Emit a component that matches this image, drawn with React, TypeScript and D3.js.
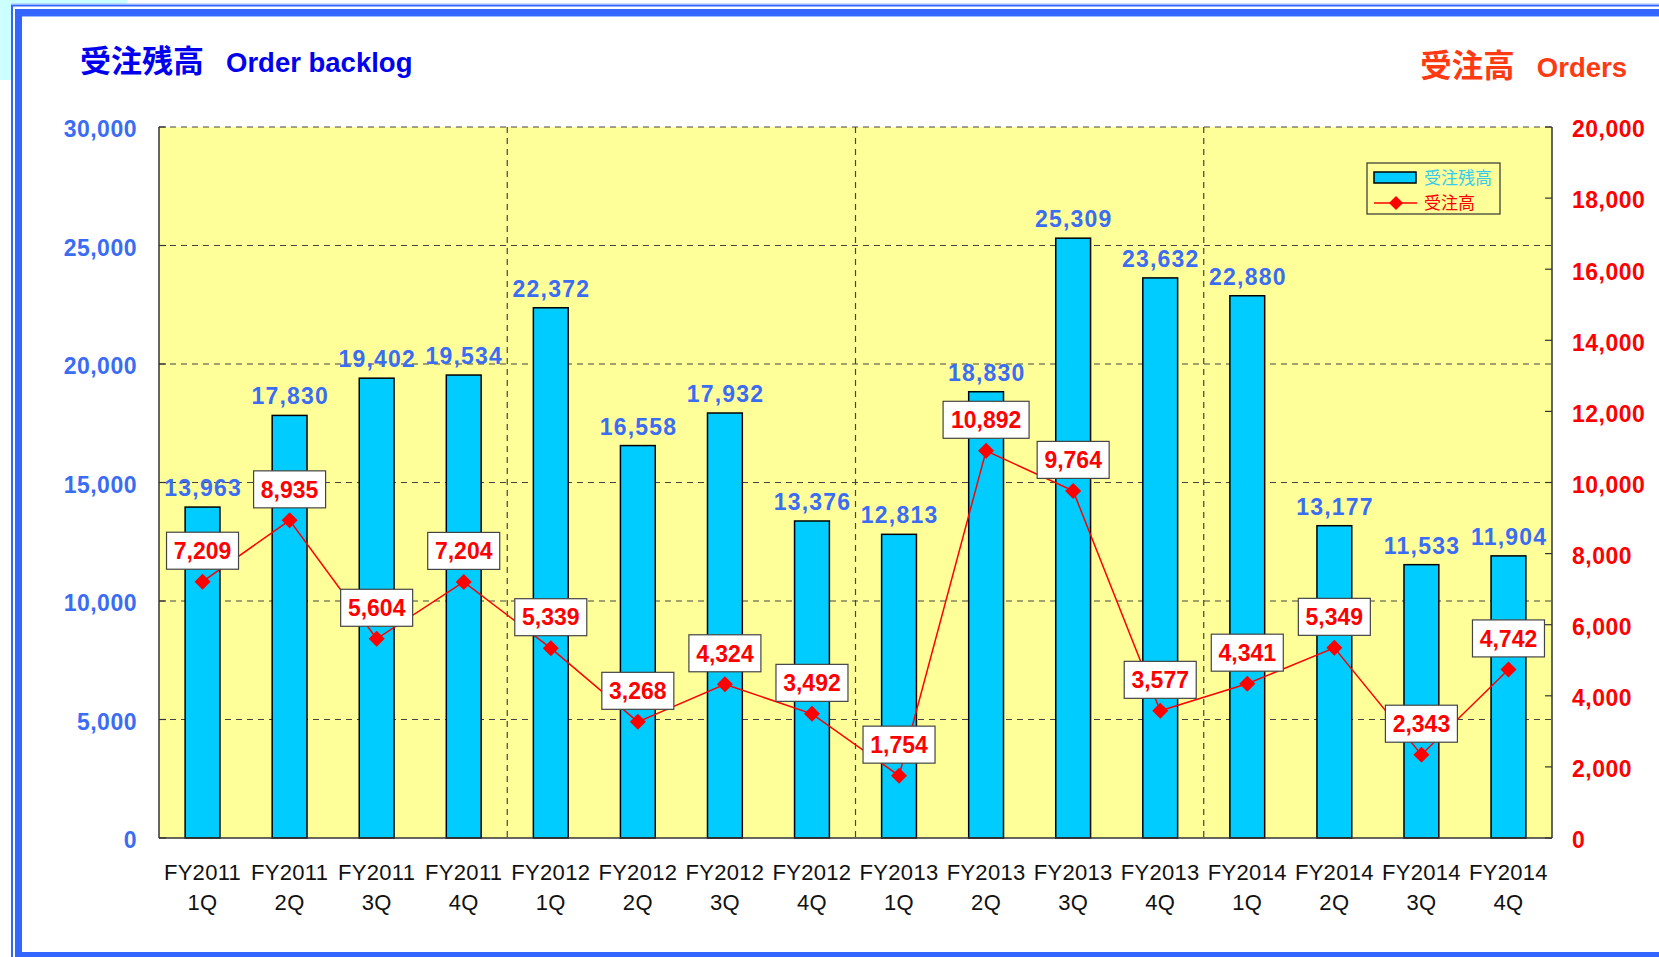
import * as d3 from "d3";
import React from "react";

// categories (two-line labels)
const years = ["FY2011", "FY2011", "FY2011", "FY2011", "FY2012", "FY2012", "FY2012", "FY2012",
  "FY2013", "FY2013", "FY2013", "FY2013", "FY2014", "FY2014", "FY2014", "FY2014"];
const quarters = ["1Q", "2Q", "3Q", "4Q", "1Q", "2Q", "3Q", "4Q", "1Q", "2Q", "3Q", "4Q", "1Q", "2Q", "3Q", "4Q"];

// 受注残高 (order backlog), left axis
const backlog = [13963, 17830, 19402, 19534, 22372, 16558, 17932, 13376,
  12813, 18830, 25309, 23632, 22880, 13177, 11533, 11904];
// 受注高 (orders), right axis
const orders = [7209, 8935, 5604, 7204, 5339, 3268, 4324, 3492,
  1754, 10892, 9764, 3577, 4341, 5349, 2343, 4742];

const leftTicks = [0, 5000, 10000, 15000, 20000, 25000, 30000];
const rightTicks = [0, 2000, 4000, 6000, 8000, 10000, 12000, 14000, 16000, 18000, 20000];

const W = 1659, H = 957;
const plot = { left: 159, right: 1552, top: 127, bottom: 838 };
const fmt = d3.format(",");
const numFont = "'Liberation Sans', Arial, sans-serif";
const jpFont = "'Noto Sans CJK JP', sans-serif";

export default function App() {
  const keys = years.map((_, i) => String(i));
  const x = d3.scaleBand().domain(keys).range([plot.left, plot.right]).paddingInner(0.6).paddingOuter(0.3);
  const step = x.step();
  const cx = (i: number) => (x(String(i)) as number) + x.bandwidth() / 2;
  const yL = d3.scaleLinear().domain([0, 30000]).range([plot.bottom, plot.top]);
  const yR = d3.scaleLinear().domain([0, 20000]).range([plot.bottom, plot.top]);

  const line = d3.line<number>().x((_, i) => cx(i)).y(d => yR(d));
  const diamond = (px: number, py: number, r: number) =>
    `M${px},${py - r}L${px + r},${py}L${px},${py + r}L${px - r},${py}Z`;

  // boundaries between fiscal years
  const yearBreaks = [4, 8, 12].map(k => plot.left + step * k);

  return (
    <svg width={W} height={H} style={{ position: "absolute", left: 0, top: 0, background: "#fff" }}>
      {/* frame */}
      <rect x={0} y={0} width={127} height={80} fill="#ccffff" />
      <rect x={11} y={4} width={W - 11} height={H - 4} fill="#fff" />
      <line x1={11} y1={5.5} x2={W} y2={5.5} stroke="#3366ff" strokeWidth={2} />
      <line x1={11} y1={4} x2={W} y2={4} stroke="#99bbff" strokeWidth={1} />
      <line x1={12} y1={5} x2={12} y2={H} stroke="#3366ff" strokeWidth={2} />
      <rect x={15} y={9} width={W - 15} height={7} fill="#3366ff" />
      <rect x={15} y={9} width={7} height={H - 9} fill="#3366ff" />
      <rect x={15} y={952} width={W - 15} height={5} fill="#3366ff" />
      <line x1={22} y1={16.5} x2={W} y2={16.5} stroke="#99bbff" strokeWidth={1} />

      {/* titles */}
      <text x={80} y={72} fill="#0000ee" fontWeight="bold" fontSize={31} fontFamily={jpFont}>
        受注残高<tspan dx={22} fontFamily={numFont} fontSize={27.5}>Order backlog</tspan>
      </text>
      <text x={1627} y={77} textAnchor="end" fill="#ff3a12" fontWeight="bold" fontSize={31.5} fontFamily={jpFont}>
        受注高<tspan dx={22} fontFamily={numFont} fontSize={27.5}>Orders</tspan>
      </text>

      {/* plot background */}
      <rect x={plot.left} y={plot.top} width={plot.right - plot.left} height={plot.bottom - plot.top} fill="#ffff99" />

      {/* gridlines */}
      {leftTicks.filter(t => t > 0).map(t => (
        <line key={t} x1={plot.left} x2={plot.right} y1={yL(t)} y2={yL(t)} stroke="#444" strokeWidth={1.2} strokeDasharray="6,5" />
      ))}
      {yearBreaks.map((bx, i) => (
        <line key={i} x1={bx} x2={bx} y1={plot.top} y2={plot.bottom} stroke="#444" strokeWidth={1.2} strokeDasharray="6,5" />
      ))}

      {/* bars */}
      {backlog.map((v, i) => (
        <rect key={i} x={x(String(i))} y={yL(v)} width={x.bandwidth()} height={plot.bottom - yL(v)}
          fill="#00ccff" stroke="#000" strokeWidth={1.5} />
      ))}

      {/* axes */}
      <line x1={plot.left} x2={plot.left} y1={plot.top} y2={plot.bottom} stroke="#333" strokeWidth={1.5} />
      <line x1={plot.right} x2={plot.right} y1={plot.top} y2={plot.bottom} stroke="#333" strokeWidth={1.5} />
      <line x1={plot.left} x2={plot.right} y1={plot.bottom} y2={plot.bottom} stroke="#333" strokeWidth={1.5} />
      {leftTicks.map(t => (
        <g key={t}>
          <line x1={plot.left} x2={plot.left + 7} y1={yL(t)} y2={yL(t)} stroke="#333" strokeWidth={1.2} />
          <text x={137} y={yL(t)} dy="0.45em" textAnchor="end" fill="#3b6cf4" fontWeight="bold" fontSize={23} letterSpacing={0.5} fontFamily={numFont}>{fmt(t)}</text>
        </g>
      ))}
      {rightTicks.map(t => (
        <g key={t}>
          <line x1={plot.right - 7} x2={plot.right} y1={yR(t)} y2={yR(t)} stroke="#333" strokeWidth={1.2} />
          <text x={1572} y={yR(t)} dy="0.45em" fill="#ff0000" fontWeight="bold" fontSize={23} letterSpacing={0.5} fontFamily={numFont}>{fmt(t)}</text>
        </g>
      ))}

      {/* category labels */}
      {years.map((yr, i) => (
        <text key={i} x={cx(i)} textAnchor="middle" fill="#111" fontSize={22} letterSpacing={0.3} fontFamily={numFont}>
          <tspan x={cx(i)} y={880}>{yr}</tspan>
          <tspan x={cx(i)} y={910}>{quarters[i]}</tspan>
        </text>
      ))}

      {/* backlog value labels */}
      {backlog.map((v, i) => (
        <text key={i} x={cx(i) + 0.6} y={yL(v) - 11} textAnchor="middle" fill="#3b6cf4" fontWeight="bold" fontSize={23} letterSpacing={1.2} fontFamily={numFont}>{fmt(v)}</text>
      ))}

      {/* orders line */}
      <path d={line(orders) as string} fill="none" stroke="#ff0000" strokeWidth={1.5} />
      {orders.map((v, i) => (
        <path key={i} d={diamond(cx(i), yR(v), 8)} fill="#ff0000" />
      ))}
      {orders.map((v, i) => {
        const s = fmt(v);
        const bw = 14 * s.length + 2;
        const by = yR(v) - 31;
        return (
          <g key={i}>
            <rect x={cx(i) - bw / 2} y={by - 18.5} width={bw} height={37} fill="#fff" stroke="#444" strokeWidth={1.2} />
            <text x={cx(i)} y={by} dy="0.36em" textAnchor="middle" fill="#ff0000" fontWeight="bold" fontSize={23} fontFamily={numFont}>{s}</text>
          </g>
        );
      })}

      {/* legend */}
      <rect x={1367} y={163} width={133} height={51} fill="none" stroke="#333" strokeWidth={1.2} />
      <rect x={1374} y={172} width={42} height={11} fill="#00ccff" stroke="#000" strokeWidth={1.5} />
      <text x={1424} y={184} fill="#33ccee" fontSize={17} fontFamily={jpFont}>受注残高</text>
      <line x1={1374} x2={1417} y1={203} y2={203} stroke="#ff0000" strokeWidth={1.5} />
      <path d={diamond(1396, 203, 7)} fill="#ff0000" />
      <text x={1424} y={209} fill="#ff0000" fontSize={17} fontFamily={jpFont}>受注高</text>
    </svg>
  );
}
